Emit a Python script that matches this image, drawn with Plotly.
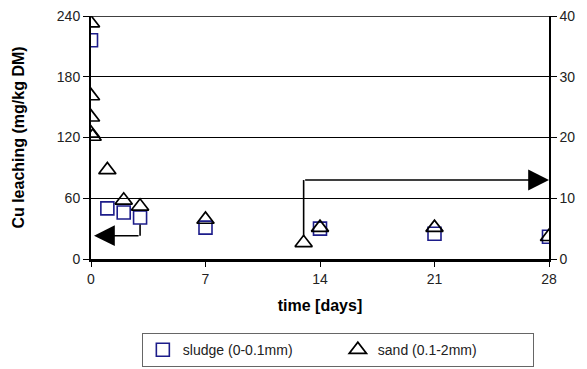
import plotly.graph_objects as go

# ---- data ----
sludge_days = [0, 1, 2, 3, 7, 14, 21, 28]
sludge_cu = [216, 50, 46, 41, 31, 30, 25, 22]

sand_days = [0, 0, 0, 0, 0.1, 1, 2, 3, 7, 13, 14, 21, 28]
sand_cu = [233, 161, 140, 124, 121, 88, 58, 52, 39, 16, 31, 31, 22]

x_ticks = [0, 7, 14, 21, 28]
y_ticks = [0, 60, 120, 180, 240]
y2_ticks = [0, 10, 20, 30, 40]

left_arrow_level = 23      # mg/kg, left axis
right_arrow_level = 13     # right axis units

FONT = "Liberation Sans, Arial, sans-serif"

fig = go.Figure()
fig.add_trace(go.Scatter(
    x=sludge_days, y=sludge_cu, mode="markers", name="sludge (0-0.1mm)",
    marker=dict(symbol="square-open", size=13, color="#1c1c8a", line=dict(width=1.6)),
))
fig.add_trace(go.Scatter(
    x=sand_days, y=sand_cu, mode="markers", name="sand (0.1-2mm)",
    marker=dict(symbol="triangle-up-open", size=15, color="black", line=dict(width=1.7)),
))
fig.add_trace(go.Scatter(x=[None], y=[None], yaxis="y2", showlegend=False, hoverinfo="skip"))

# top gridline at the maximum left tick
fig.add_shape(type="line", x0=0, x1=1, y0=y_ticks[-1], y1=y_ticks[-1],
              xref="paper", yref="y", line=dict(color="black", width=1.5))

# left arrow: from sludge day-3 point down, then to left axis
sx, sy = sludge_days[3], sludge_cu[3]
fig.add_shape(type="line", x0=sx, x1=sx, y0=sy - 7, y1=left_arrow_level,
              xref="x", yref="y", line=dict(color="black", width=1.6))
fig.add_annotation(x=x_ticks[0], y=left_arrow_level, ax=sx, ay=left_arrow_level,
                   xref="x", yref="y", axref="x", ayref="y", text="",
                   showarrow=True, arrowhead=2, arrowsize=2.6, arrowwidth=1.6, arrowcolor="black",
                   standoff=3)

# right arrow: from sand day-13 point up, then to right axis
rx, ry = sand_days[9], sand_cu[9]
fig.add_shape(type="line", x0=rx, x1=rx, y0=ry + 6, y1=right_arrow_level * 6,
              xref="x", yref="y", line=dict(color="black", width=1.6))
fig.add_annotation(x=x_ticks[-1], y=right_arrow_level, ax=rx, ay=right_arrow_level,
                   xref="x", yref="y2", axref="x", ayref="y2", text="",
                   showarrow=True, arrowhead=2, arrowsize=2.6, arrowwidth=1.6, arrowcolor="black",
                   standoff=0)

fig.update_layout(
    width=587, height=369,
    margin=dict(l=91, r=38, t=16, b=110, autoexpand=False),
    plot_bgcolor="white", paper_bgcolor="white",
    font=dict(family=FONT, size=14, color="#222"),
    xaxis=dict(range=[0, 28], tickvals=x_ticks, showgrid=False, zeroline=False,
               showline=True, linecolor="black", linewidth=3,
               ticks="outside", ticklen=5, tickcolor="black",
               title=dict(text="<b>time [days]</b>", font=dict(size=16, color="black"), standoff=15)),
    yaxis=dict(range=[0, 240], tickvals=y_ticks, showgrid=True, gridcolor="black", gridwidth=1,
               zeroline=False, showline=True, linecolor="black", linewidth=2,
               ticks="outside", ticklen=6, tickcolor="black",
               title=dict(text="<b>Cu leaching (mg/kg DM)</b>", font=dict(size=16, color="black"), standoff=28)),
    yaxis2=dict(range=[0, 40], tickvals=y2_ticks, overlaying="y", side="right",
                showgrid=False, zeroline=False, showline=True, linecolor="black", linewidth=1.5,
                ticks="outside", ticklen=6, tickcolor="black"),
    legend=dict(orientation="h", x=0.111, y=-0.305, xanchor="left", yanchor="top",
                bordercolor="#666", borderwidth=1, entrywidth=150, entrywidthmode="pixels",
                font=dict(size=14, color="#222"), itemwidth=30),
    showlegend=True,
)

fig.write_html("out.html")
